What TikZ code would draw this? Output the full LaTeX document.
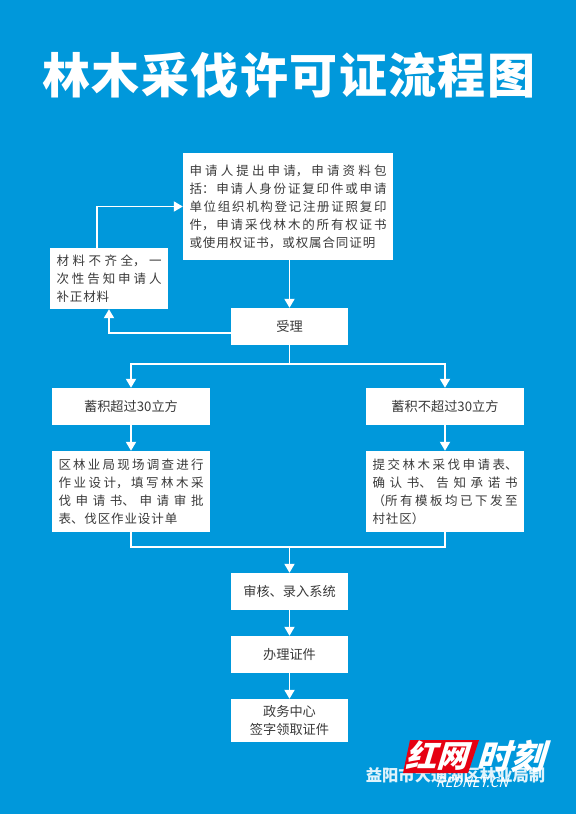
\documentclass[tikz,border=0pt]{standalone}
\usepackage{fontspec}
\usepackage{xcolor}
\usetikzlibrary{arrows.meta}
\setmainfont{Noto Sans CJK SC}
\newfontfamily\titlefont[LetterSpace=3]{Noto Sans CJK SC}
\XeTeXlinebreaklocale "zh"
\XeTeXlinebreakskip=0.9pt plus 8pt
\definecolor{bgblue}{HTML}{0098DB}
\definecolor{boxtext}{HTML}{3A3A3A}
\definecolor{logored}{HTML}{E60012}
\tikzset{
    flowbox/.style={fill=white, text=boxtext, inner sep=0pt, align=center,
        font=\fontsize{13.2}{18}\selectfont, minimum width=117pt, minimum height=37pt},
    notebox/.style={flowbox, align=justify, inner xsep=6.5pt, font=\fontsize{12.5}{18}\selectfont},
    flowline/.style={draw=white, line width=1.8pt},
    flowarrow/.style={flowline, -{Triangle[width=10pt,length=9pt]}}
}

\begin{document}
\begin{tikzpicture}[x=1pt,y=-1pt]
    \useasboundingbox (0,0) rectangle (576,814);
    \fill[bgblue] (0,0) rectangle (576,814);

    % Title
    \node[text=white, inner sep=0pt, font=\titlefont\bfseries\fontsize{48}{52}\selectfont] (title) at (289,75) {林木采伐许可证流程图};

    % Boxes of the top part
    \node[notebox, text width=197pt, minimum height=107pt] (apply) at (288,206.5)
        {申请人提出申请，申请资料包\linebreak 括：申请人身份证复印件或申请\linebreak 单位组织机构登记注册证照复印\linebreak 件，申请采伐林木的所有权证书\linebreak 或使用权证书，或权属合同证明};
    \node[notebox, text width=105pt, minimum height=61pt] (missing) at (109,278.5)
        {材料不齐全，一\linebreak 次性告知申请人\linebreak 补正材料};
    \node[flowbox] (accept) at (289.5,326.5) {受理};

    % The two branches
    \node[flowbox, minimum width=158pt] (over) at (131,406.5) {蓄积超过30立方};
    \node[flowbox, minimum width=158pt] (under) at (445,406.5) {蓄积不超过30立方};
    \node[notebox, text width=145pt, minimum height=81pt] (survey) at (131,491.5)
        {区林业局现场调查进行\linebreak 作业设计，填写林木采\linebreak 伐申请书、申请审批\linebreak 表、伐区作业设计单};
    \node[notebox, text width=145pt, minimum height=81pt] (submit) at (445,491.5)
        {提交林木采伐申请表、\linebreak 确认书、告知承诺书\linebreak （所有模板均已下发至\linebreak 村社区）};

    % Boxes of the bottom part
    \node[flowbox] (review) at (289.5,591.5) {审核、录入系统};
    \node[flowbox] (issue) at (289.5,654.5) {办理证件};
    \node[flowbox, minimum height=43pt] (collect) at (289.5,720.5) {政务中心\\签字领取证件};

    \coordinate (split) at (289.5,364);
    \coordinate (merge) at (289.5,547);

    % Connectors
    \draw[flowarrow] (apply.south -| accept) -- (accept);
    \draw[flowarrow] ([xshift=-12pt]missing.north) |- (apply.west);
    \draw[flowarrow] ([yshift=-6.5pt]accept.west) -| (missing.south);
    \draw[flowline] (accept) -- (split);
    \draw[flowarrow] (split) -| (over);
    \draw[flowarrow] (split) -| (under);
    \draw[flowarrow] (over) -- (survey);
    \draw[flowarrow] (under) -- (submit);
    \draw[flowline] (survey) |- (merge);
    \draw[flowline] (submit) |- (merge);
    \draw[flowarrow] (merge) -- (review);
    \draw[flowarrow] (review) -- (issue);
    \draw[flowarrow] (issue) -- (collect);

    % Footer and watermark
    \node[text=white!88!bgblue, inner sep=0pt, font=\bfseries\fontsize{16.3}{18}\selectfont] (maker) at (455.5,775) {益阳市大通湖区林业局制};
    \fill[logored] (410,740) -- (479,740) -- (468,773) -- (403,773) -- cycle;
    \node[transform shape, xslant=0.3, text=white, inner sep=0pt, font=\bfseries\fontsize{31}{33}\selectfont] (logoa) at (440,756) {红网};
    \node[transform shape, xslant=0.3, text=white, inner sep=0pt, font=\bfseries\fontsize{34}{36}\selectfont] (logob) at (514,756) {时刻};
    \node[transform shape, xslant=0.3, text=white, inner sep=0pt, font=\fontsize{13.5}{15}\selectfont] (logoc) at (473.5,783) {REDNET.CN};
\end{tikzpicture}
\end{document}
